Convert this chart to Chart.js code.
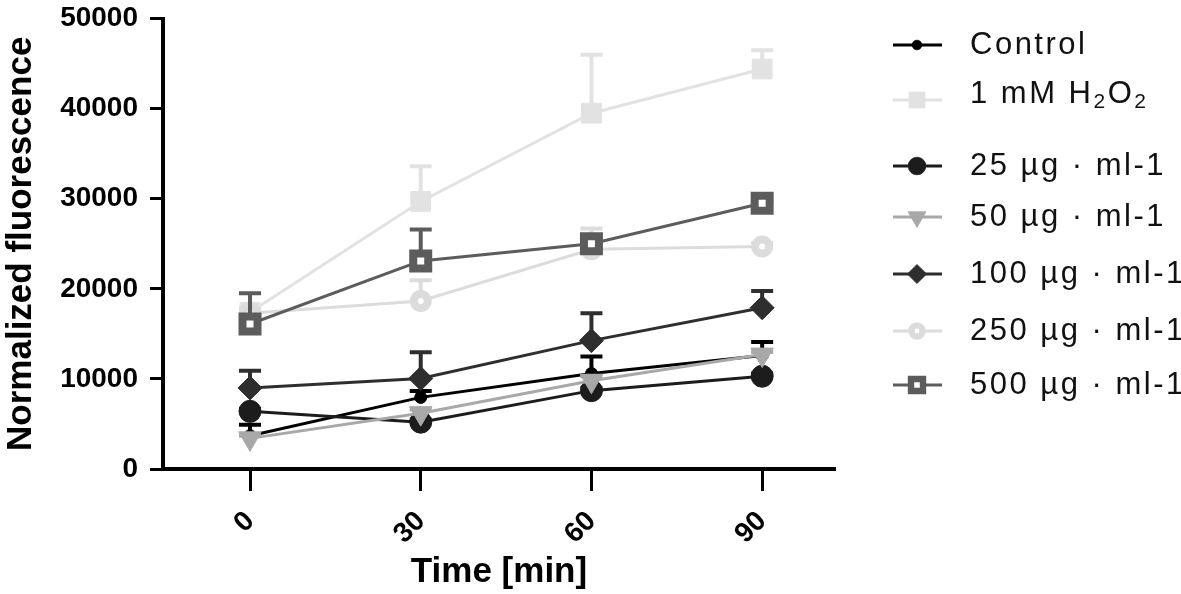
<!DOCTYPE html>
<html>
<head>
<meta charset="utf-8">
<script src="https://cdn.jsdelivr.net/npm/chart.js@4/dist/chart.umd.min.js"></script>
<style>
html,body{margin:0;padding:0;background:#fff;}
#wrap{width:1181px;height:594px;position:relative;}
</style>
</head>
<body>
<div id="wrap"><canvas id="c" width="1181" height="594"></canvas></div>
<script>
// ---- data ----
const times = [0, 30, 60, 90];
const yTicks = [0, 10000, 20000, 30000, 40000, 50000];
const seriesNames = ['Control', '1 mM H2O2', '25 µg · ml-1', '50 µg · ml-1', '100 µg · ml-1', '250 µg · ml-1', '500 µg · ml-1'];

const control    = [3700, 7950, 10600, 12600];
const controlErr = [1200, 700, 1900, 1500];
const h2o2       = [17400, 29700, 39500, 44400];
const h2o2Err    = [500, 3900, 6500, 2100];
const ug25       = [6400, 5200, 8700, 10300];
const ug25Err    = [300, 300, 300, 300];
const ug50       = [3400, 6200, 9800, 12700];
const ug50Err    = [300, 400, 500, 300];
const ug100      = [9000, 10050, 14250, 17900];
const ug100Err   = [1900, 2900, 3050, 1850];
const ug250      = [17300, 18650, 24400, 24700];
const ug250Err   = [400, 2300, 2300, 400];
const ug500      = [16100, 23100, 25000, 29500];
const ug500Err   = [3400, 3500, 400, 300];

// ---- styles ----
const styles = [
  {color:'#000000', style:'circle',   r:6,    bg:'#000000', bw:1},
  {color:'#e2e2e2', style:'rect',     r:14,   bg:'#e2e2e2', bw:1},
  {color:'#1c1c1c', style:'circle',   r:11,   bg:'#1c1c1c', bw:1},
  {color:'#a8a8a8', style:'triangle', r:13,   bg:'#a8a8a8', bw:1, rot:180},
  {color:'#2e2e2e', style:'rectRot',  r:12,   bg:'#2e2e2e', bw:1},
  {color:'#dcdcdc', style:'circle',   r:7,    bg:'#ffffff', bw:8},
  {color:'#5c5c5c', style:'rect',     r:10.6, bg:'#ffffff', bw:8}
];
const values = [control, h2o2, ug25, ug50, ug100, ug250, ug500];
const errors = [controlErr, h2o2Err, ug25Err, ug50Err, ug100Err, ug250Err, ug500Err];

const datasets = values.map((vals, i) => ({
  label: seriesNames[i],
  data: vals.map((v, j) => ({x: times[j], y: v})),
  errors: errors[i],
  borderColor: styles[i].color,
  backgroundColor: styles[i].color,
  borderWidth: 3,
  pointStyle: styles[i].style,
  pointRadius: styles[i].r,
  pointRotation: styles[i].rot || 0,
  pointBackgroundColor: styles[i].bg,
  pointBorderColor: styles[i].color,
  pointBorderWidth: styles[i].bw,
  tension: 0,
  fill: false,
  clip: false,
  order: values.length - 1 - i
}));

const legendY = [45, 100, 166, 217, 274, 331, 385];

const errorBars = {
  id: 'errorBars',
  beforeDatasetDraw(chart, args) {
    const ds = chart.data.datasets[args.index];
    if (!ds.errors) return;
    const ctx = chart.ctx, xs = chart.scales.x, ys = chart.scales.y;
    ctx.save();
    ctx.strokeStyle = ds.borderColor;
    ctx.lineWidth = 4;
    ds.data.forEach((p, j) => {
      const x = xs.getPixelForValue(p.x);
      const y0 = ys.getPixelForValue(p.y);
      const y1 = ys.getPixelForValue(p.y + ds.errors[j]);
      ctx.beginPath();
      ctx.moveTo(x, y0); ctx.lineTo(x, y1);
      ctx.moveTo(x - 11, y1); ctx.lineTo(x + 11, y1);
      ctx.stroke();
    });
    ctx.restore();
  }
};

const customLegend = {
  id: 'customLegend',
  afterDraw(chart) {
    const ctx = chart.ctx;
    chart.data.datasets.forEach((ds, i) => {
      const y = legendY[i];
      ctx.save();
      ctx.strokeStyle = ds.borderColor;
      ctx.lineWidth = 3;
      ctx.beginPath(); ctx.moveTo(893, y); ctx.lineTo(942, y); ctx.stroke();
      ctx.fillStyle = ds.pointBackgroundColor;
      ctx.strokeStyle = ds.pointBorderColor;
      ctx.lineWidth = ds.pointBorderWidth * 0.8;
      Chart.helpers.drawPoint(ctx, {pointStyle: ds.pointStyle, radius: ds.pointRadius * 0.8, rotation: ds.pointRotation, borderWidth: ds.pointBorderWidth * 0.8}, 917, y);
      ctx.restore();

      ctx.save();
      ctx.fillStyle = '#111';
      ctx.textBaseline = 'middle';
      ctx.textAlign = 'left';
      try { ctx.letterSpacing = '2.5px'; } catch(e) {}
      const big = '31px "Liberation Sans", Arial, sans-serif';
      const small = '21px "Liberation Sans", Arial, sans-serif';
      let x = 970;
      if (ds.label === '1 mM H2O2') {
        const parts = [['1 mM H', big, 0], ['2', small, 8], ['O', big, 0], ['2', small, 8]];
        parts.forEach(p => {
          ctx.font = p[1];
          ctx.fillText(p[0], x, y - 6 + p[2]);
          x += ctx.measureText(p[0]).width;
        });
      } else {
        ctx.font = big;
        ctx.fillText(ds.label, x, y);
      }
      ctx.restore();
    });
  }
};

const FONT = '"Liberation Sans", Arial, sans-serif';

new Chart(document.getElementById('c'), {
  type: 'line',
  data: { datasets },
  options: {
    responsive: false,
    devicePixelRatio: 1,
    animation: false,
    events: [],
    layout: { padding: { top: 16, right: 346, bottom: 0, left: 0 } },
    plugins: { legend: { display: false }, tooltip: { enabled: false }, title: { display: false } },
    scales: {
      x: {
        type: 'linear',
        min: -15.29,
        max: 102.8,
        afterBuildTicks(scale) { scale.ticks = times.map(v => ({value: v})); },
        afterFit(scale) { scale.height = 125; scale.paddingLeft = 0; scale.paddingRight = 0; },
        grid: { display: true, drawOnChartArea: false, drawTicks: true, tickLength: 22, tickWidth: 3, tickColor: '#000' },
        border: { display: true, width: 4, color: '#000' },
        ticks: {
          autoSkip: false, minRotation: 45, maxRotation: 45, padding: 14,
          color: '#000', font: { family: FONT, size: 28, weight: 'bold' },
          callback: v => String(v)
        },
        title: {
          display: true, text: 'Time [min]', color: '#000',
          font: { family: FONT, size: 35, weight: 'bold' },
          padding: { top: 0, bottom: 1 }
        }
      },
      y: {
        type: 'linear',
        min: 0,
        max: 50000,
        afterBuildTicks(scale) { scale.ticks = yTicks.map(v => ({value: v})); },
        afterFit(scale) { scale.width = 163; scale.paddingTop = 0; scale.paddingBottom = 0; },
        grid: { display: true, drawOnChartArea: false, drawTicks: true, tickLength: 13, tickWidth: 3, tickColor: '#000' },
        border: { display: true, width: 4, color: '#000' },
        ticks: {
          padding: 12, color: '#000',
          font: { family: FONT, size: 28, weight: 'bold' },
          callback: v => String(v)
        },
        title: {
          display: true, text: 'Normalized fluorescence', color: '#000',
          font: { family: FONT, size: 35, weight: 'bold' },
          padding: { top: 0, bottom: 0 }
        }
      }
    }
  },
  plugins: [errorBars, customLegend]
});
</script>
</body>
</html>
